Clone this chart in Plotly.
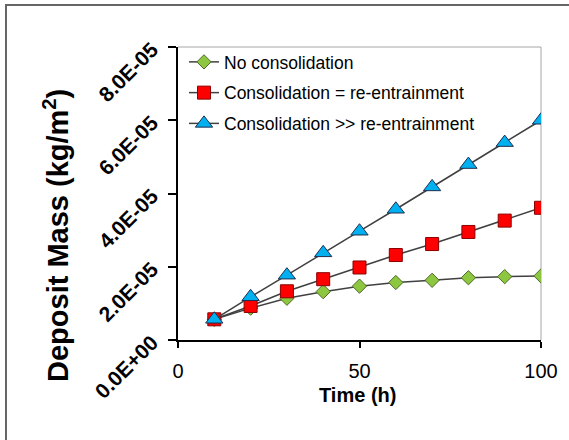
import plotly.graph_objects as go

# ---- data ----
time_h = [10, 20, 30, 40, 50, 60, 70, 80, 90, 100]
no_consolidation = [0.565e-5, 0.87e-5, 1.14e-5, 1.32e-5, 1.47e-5, 1.57e-5, 1.63e-5, 1.70e-5, 1.73e-5, 1.75e-5]
consol_eq_reent = [0.565e-5, 0.93e-5, 1.33e-5, 1.66e-5, 1.98e-5, 2.32e-5, 2.62e-5, 2.95e-5, 3.26e-5, 3.61e-5]
consol_gg_reent = [0.565e-5, 1.18e-5, 1.77e-5, 2.38e-5, 2.97e-5, 3.57e-5, 4.18e-5, 4.79e-5, 5.39e-5, 6.0e-5]
series_names = ["No consolidation", "Consolidation = re-entrainment", "Consolidation >> re-entrainment"]
y_tickvals = [0, 2e-5, 4e-5, 6e-5, 8e-5]
y_ticktext = ["0.0E+00", "2.0E-05", "4.0E-05", "6.0E-05", "8.0E-05"]
x_tickvals = [0, 50, 100]

W, H = 569, 440
ML, MR, MT, MB = 178, 28, 47, 100
PW, PH = W - ML - MR, H - MT - MB

def px_x(px):
    return (px - ML) / PW

def px_y(py):
    return (H - MB - py) / PH

FONT = "Liberation Sans, Arial, sans-serif"
LINE = "#404040"

fig = go.Figure()
fig.add_trace(go.Scatter(
    x=time_h, y=no_consolidation, name=series_names[0], mode="lines+markers",
    line=dict(color=LINE, width=1.5), legendgroup="a",
    marker=dict(symbol="diamond", size=11, color="#8DC63F", line=dict(color="#4F6B2C", width=1))))
fig.add_trace(go.Scatter(
    x=time_h, y=consol_eq_reent, name=series_names[1], mode="lines+markers",
    line=dict(color=LINE, width=1.5), legendgroup="b",
    marker=dict(symbol="square", size=13, color="#FF0000", line=dict(color="#8B0000", width=1))))
fig.add_trace(go.Scatter(
    x=time_h, y=consol_gg_reent, name=series_names[2], mode="lines+markers",
    line=dict(color=LINE, width=1.5), legendgroup="c",
    marker=dict(symbol="triangle-up", size=15, color="#00B0F0", line=dict(color="#1F2F4F", width=1))))

fig.update_layout(
    width=W, height=H,
    margin=dict(l=ML, r=MR, t=MT, b=MB),
    paper_bgcolor="white", plot_bgcolor="white",
    font=dict(family=FONT, color="black"),
    showlegend=True,
    legend=dict(x=px_x(184), y=px_y(44), xanchor="left", yanchor="top",
                bgcolor="rgba(0,0,0,0)", borderwidth=0,
                font=dict(size=17.5, family=FONT, color="black"),
                tracegroupgap=5, itemsizing="trace"),
    xaxis=dict(range=[0, 100], tickvals=x_tickvals, showgrid=False, zeroline=False,
               showline=True, linecolor="black", linewidth=1.5,
               ticks="outside", ticklen=6, tickcolor="black", tickwidth=1.5,
               tickfont=dict(size=20, family=FONT), ticklabelstandoff=6),
    yaxis=dict(range=[0, 8e-5], tickvals=y_tickvals, ticktext=y_ticktext, showgrid=False,
               zeroline=False, showline=True, linecolor="black", linewidth=1.5,
               ticks="outside", ticklen=8, tickcolor="black", tickwidth=1.5,
               tickangle=-45, tickfont=dict(size=21, family=FONT, weight="bold"),
               ticklabelstandoff=12),
    shapes=[
        # plot area frame (top & right)
        dict(type="line", xref="paper", yref="paper", x0=0, x1=1, y0=1, y1=1,
             line=dict(color="#A6A6A6", width=1), layer="below"),
        dict(type="line", xref="paper", yref="paper", x0=1, x1=1, y0=0, y1=1,
             line=dict(color="#A6A6A6", width=1), layer="below"),
        # outer chart border (top & left visible)
        dict(type="rect", xref="paper", yref="paper", x0=px_x(6), x1=px_x(W + 20),
             y0=px_y(H + 20), y1=px_y(5), line=dict(color="#666666", width=2), layer="below"),
    ],
    annotations=[
        dict(text="Deposit Mass (kg/m<sup>2</sup>)", xref="paper", yref="paper",
             x=px_x(56), y=px_y(236), textangle=-90, showarrow=False,
             xanchor="center", yanchor="middle",
             font=dict(size=29, family=FONT, weight="bold", color="black")),
        dict(text="Time (h)", xref="paper", yref="paper",
             x=px_x(357), y=px_y(395), showarrow=False,
             xanchor="center", yanchor="middle",
             font=dict(size=20, family=FONT, weight="bold", color="black")),
    ],
)

fig.write_html("out.html")
